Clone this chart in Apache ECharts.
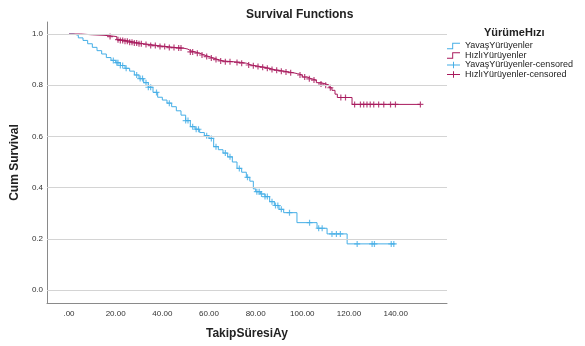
<!DOCTYPE html>
<html>
<head>
<meta charset="utf-8">
<script src="https://cdn.jsdelivr.net/npm/echarts@6/dist/echarts.min.js"></script>
<style>
  html, body { margin: 0; padding: 0; background: #fff; }
  #chart { width: 585px; height: 346px; }
</style>
</head>
<body>
<div id="chart"></div>
<script>
// Kaplan-Meier curves: [time, cum survival]
const slowCurve = [
  [0, 1], [2, 0.995], [4, 0.985], [6, 0.975], [8, 0.962], [10, 0.948], [12, 0.935],
  [14, 0.922], [16, 0.908], [18, 0.897], [20, 0.888], [22, 0.877], [24, 0.866],
  [26, 0.855], [28, 0.84], [30, 0.826], [32, 0.81], [34, 0.792], [36, 0.772],
  [38, 0.753], [40, 0.742], [42, 0.73], [44, 0.716], [46, 0.7], [48, 0.683],
  [50, 0.662], [52, 0.638], [54, 0.628], [56, 0.615], [58, 0.603], [60, 0.592],
  [62, 0.56], [64, 0.548], [66, 0.535], [68, 0.52], [70, 0.5], [72, 0.475],
  [74, 0.46], [76, 0.44], [77.5, 0.425], [79, 0.395], [80, 0.384], [82, 0.375],
  [84, 0.365], [86, 0.345], [88, 0.33], [90, 0.315], [92, 0.302], [97.7, 0.263],
  [106.3, 0.241], [110.6, 0.219], [119.2, 0.18], [139.9, 0.18]
];
const fastCurve = [
  [0, 1], [5, 0.997], [10, 0.995], [15, 0.993], [17.6, 0.99], [20.5, 0.978],
  [22, 0.975], [24, 0.972], [26, 0.968], [28, 0.965], [30, 0.962], [32, 0.959],
  [35, 0.955], [38, 0.951], [42, 0.947], [46, 0.945], [49, 0.941], [51, 0.935],
  [52, 0.93], [54, 0.925], [56, 0.918], [58, 0.912], [60, 0.906], [62, 0.9],
  [64, 0.895], [66, 0.892], [70, 0.889], [74, 0.886], [76, 0.879], [78, 0.876],
  [80, 0.873], [82, 0.87], [84, 0.866], [86, 0.861], [88, 0.858], [90, 0.855],
  [92, 0.852], [94, 0.849], [96, 0.845], [98, 0.84], [100, 0.832], [102, 0.825],
  [104, 0.82], [106, 0.81], [108, 0.805], [110, 0.8], [111.5, 0.79], [112.7, 0.78],
  [114, 0.765], [115, 0.752], [121.3, 0.725], [150.6, 0.725]
];
// censored observations
const slowCensored = [
  [19, 0.897], [20.5, 0.888], [21, 0.888], [22, 0.877], [23, 0.877], [24.5, 0.866],
  [29, 0.84], [30.5, 0.826], [31.5, 0.826], [33, 0.81], [34, 0.792], [35, 0.792],
  [37.5, 0.772], [43, 0.73], [50, 0.662], [51, 0.662], [53, 0.638], [54.5, 0.628],
  [55.5, 0.628], [59, 0.603], [61, 0.592], [63, 0.56], [67, 0.535], [69, 0.52],
  [73, 0.475], [76.5, 0.44], [80.5, 0.384], [81.5, 0.384], [82.5, 0.375], [84, 0.365],
  [85, 0.365], [87, 0.345], [88.5, 0.33], [89.5, 0.33], [91, 0.315], [94.5, 0.302],
  [103.1, 0.263], [107, 0.241], [108.5, 0.241], [112.7, 0.219], [114.6, 0.219],
  [116.3, 0.219], [123.5, 0.18], [129.9, 0.18], [130.9, 0.18], [138.1, 0.18], [139.2, 0.18]
];
const fastCensored = [
  [17.6, 0.99], [21, 0.978], [22, 0.975], [23, 0.975], [24, 0.972], [25, 0.972],
  [26, 0.968], [27, 0.968], [28, 0.965], [29, 0.965], [30, 0.962], [31, 0.962],
  [33, 0.959], [35, 0.955], [37, 0.955], [39, 0.951], [41, 0.951], [43, 0.947],
  [45, 0.947], [47, 0.945], [48, 0.945], [52, 0.93], [53, 0.93], [55, 0.925],
  [57, 0.918], [59, 0.912], [61, 0.906], [63, 0.9], [65, 0.895], [67, 0.892],
  [69, 0.892], [72, 0.889], [74, 0.886], [77, 0.879], [79, 0.876], [81, 0.873],
  [83, 0.87], [85, 0.866], [87, 0.861], [89, 0.858], [91, 0.855], [93, 0.852],
  [95, 0.849], [99, 0.84], [101, 0.832], [103, 0.825], [105, 0.82], [108, 0.805],
  [110, 0.8], [112, 0.79], [116.5, 0.752], [118.5, 0.752], [122.4, 0.725],
  [124.9, 0.725], [126.3, 0.725], [127.7, 0.725], [129.1, 0.725], [130.6, 0.725],
  [132.7, 0.725], [134.9, 0.725], [137.8, 0.725], [139.9, 0.725], [150.6, 0.725]
];
const xTicks = [0, 20, 40, 60, 80, 100, 120, 140];
const yTicks = [0, 0.2, 0.4, 0.6, 0.8, 1.0];
const groupNames = ['YavaşYürüyenler', 'HızlıYürüyenler'];
const colors = ['#45aee6', '#a8195c'];

const font = '"Liberation Sans", Arial, sans-serif';
const stepIcon = 'path://M0,8.5H8V0H20V1.5H9.5V10H0Z';
const crossIcon = 'path://M0,4.25H9.25V0H10.75V4.25H20V5.75H10.75V10H9.25V5.75H0Z';
const plusSymbol = 'path://M4,0H6V4H10V6H6V10H4V6H0V4H4Z';

// legend entry with an explicit icon colour
function legendItem(name, icon, color) {
  return {
    name: name, icon: icon,
    itemStyle: { color: color, opacity: 1, borderWidth: 0 },
    lineStyle: { opacity: 0 }
  };
}

const chart = echarts.init(document.getElementById('chart'));

chart.setOption({
  animation: false,
  title: [
    {
      text: 'Survival Functions', left: 241, top: 4,
      textStyle: { fontFamily: font, fontSize: 12, fontWeight: 'bold', color: '#222' }
    },
    {
      text: 'YürümeHızı', left: 479, top: 22,
      textStyle: { fontFamily: font, fontSize: 11, fontWeight: 'bold', color: '#222' }
    }
  ],
  legend: {
    orient: 'vertical',
    left: 447, top: 41.5, padding: 0,
    itemWidth: 13, itemHeight: 7, itemGap: 0.5,
    textStyle: { fontFamily: font, fontSize: 9, lineHeight: 9, color: '#222' },
    data: [
      legendItem(groupNames[0], stepIcon, colors[0]),
      legendItem(groupNames[1], stepIcon, colors[1]),
      legendItem(groupNames[0] + '-censored', crossIcon, colors[0]),
      legendItem(groupNames[1] + '-censored', crossIcon, colors[1])
    ]
  },
  grid: { left: 47, right: 138, top: 22, bottom: 43 },
  xAxis: {
    type: 'value', min: -9.43, max: 162,
    name: 'TakipSüresiAy', nameLocation: 'middle', nameGap: 25,
    nameTextStyle: { fontFamily: font, fontSize: 12, fontWeight: 'bold', color: '#222' },
    axisLine: { show: true, onZero: false, lineStyle: { color: '#8a8a8a', width: 1 } },
    axisTick: { show: false },
    splitLine: { show: false },
    axisLabel: {
      customValues: xTicks, margin: 7,
      fontFamily: font, fontSize: 8, color: '#333',
      formatter: v => v === 0 ? '.00' : v.toFixed(2)
    }
  },
  yAxis: {
    type: 'value', min: -0.051, max: 1.047,
    name: 'Cum Survival', nameLocation: 'middle', nameGap: 24,
    nameTextStyle: { fontFamily: font, fontSize: 12, fontWeight: 'bold', color: '#222' },
    axisLine: { show: true, onZero: false, lineStyle: { color: '#8a8a8a', width: 1 } },
    axisTick: { show: false },
    splitLine: { show: false },
    axisLabel: {
      customValues: yTicks, margin: 4,
      fontFamily: font, fontSize: 8, color: '#333',
      formatter: v => v.toFixed(1)
    }
  },
  series: [
    {
      // horizontal gridlines
      type: 'line', data: [], z: 1, silent: true,
      markLine: {
        silent: true, symbol: 'none', animation: false,
        label: { show: false },
        lineStyle: { color: '#d4d4d4', width: 1, type: 'solid' },
        data: yTicks.map(v => ({ yAxis: v }))
      }
    },
    {
      name: groupNames[0], type: 'line', step: 'end', data: slowCurve, z: 3,
      showSymbol: false, symbol: 'none', color: colors[0],
      lineStyle: { width: 1, color: colors[0] }
    },
    {
      name: groupNames[1], type: 'line', step: 'end', data: fastCurve, z: 3,
      showSymbol: false, symbol: 'none', color: colors[1],
      lineStyle: { width: 1, color: colors[1] }
    },
    {
      name: groupNames[0] + '-censored', type: 'scatter', data: slowCensored, z: 4,
      symbol: plusSymbol, symbolSize: 6, itemStyle: { color: colors[0] }
    },
    {
      name: groupNames[1] + '-censored', type: 'scatter', data: fastCensored, z: 4,
      symbol: plusSymbol, symbolSize: 6, itemStyle: { color: colors[1] }
    }
  ]
});
</script>
</body>
</html>
